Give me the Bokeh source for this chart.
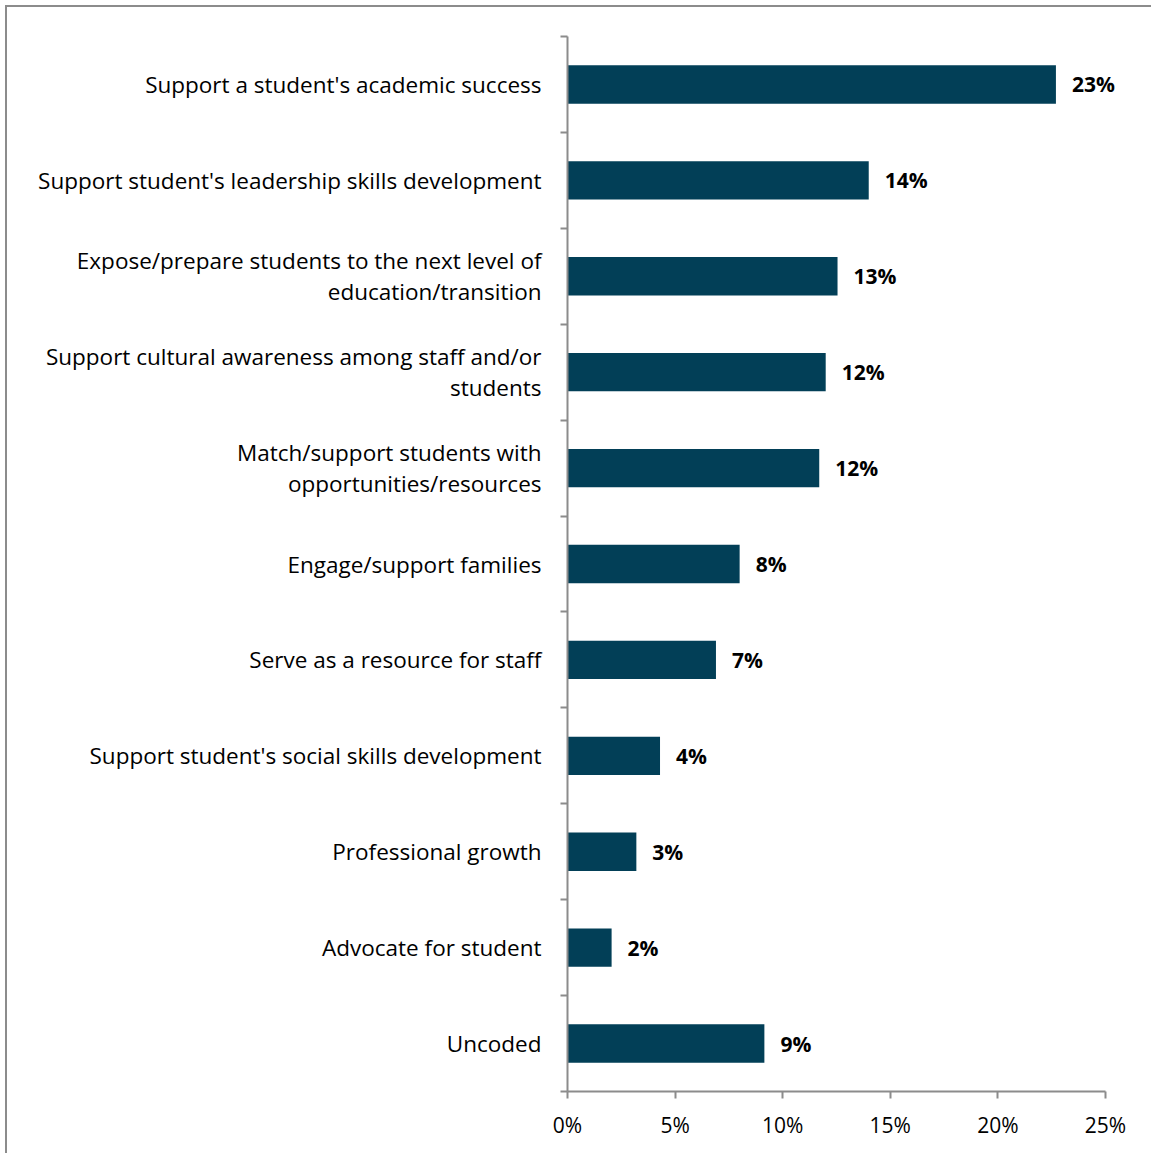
from bokeh.plotting import figure
from bokeh.models import ColumnDataSource, FixedTicker, LabelSet, Range1d
from bokeh.core.properties import value
from bokeh.embed import file_html
from bokeh.resources import INLINE

categories = [
    "Support a student's academic success",
    "Support student's leadership skills development",
    "Expose/prepare students to the next level of\neducation/transition",
    "Support cultural awareness among staff and/or\nstudents",
    "Match/support students with\nopportunities/resources",
    "Engage/support families",
    "Serve as a resource for staff",
    "Support student's social skills development",
    "Professional growth",
    "Advocate for student",
    "Uncoded",
]
values = [22.7, 14.0, 12.55, 12.0, 11.7, 8.0, 6.9, 4.3, 3.2, 2.05, 9.15]
value_labels = ["23%", "14%", "13%", "12%", "12%", "8%", "7%", "4%", "3%", "2%", "9%"]
x_ticks = [0, 5, 10, 15, 20, 25]

n = len(categories)
ypos = [n - i - 0.5 for i in range(n)]

src = ColumnDataSource(dict(y=ypos, v=values, lab=value_labels))

FONT = "Open Sans"
W, H = 1146, 1148
AXIS_MAX = 25
X_END = 26.77  # extra room so the value labels are not clipped

p = figure(width=W, height=H, output_backend="svg", toolbar_location=None,
           x_range=Range1d(0, X_END), y_range=Range1d(0, n),
           min_border_left=560, min_border_right=10, min_border_top=29, min_border_bottom=64)
p.styles = {"border-left": "2px solid #8c8c8c", "border-top": "2px solid #8c8c8c",
            "margin-left": "5px", "margin-top": "5px"}
p.outline_line_color = None
p.grid.visible = False
p.background_fill_color = "white"
p.border_fill_color = "white"

p.hbar(y="y", right="v", left=0, height=0.4, source=src, fill_color="#023f57", line_color=None)

labels = LabelSet(x="v", y="y", text="lab", source=src, x_offset=16, text_baseline="middle",
                  text_font=value(FONT), text_font_style="bold", text_font_size="21px",
                  text_color="black")
p.add_layout(labels)

# x axis
p.xaxis.bounds = (0, AXIS_MAX)
p.xaxis.ticker = FixedTicker(ticks=x_ticks)
p.xaxis.major_label_overrides = {t: f"{t}%" for t in x_ticks}
p.xaxis.axis_line_color = "#8c8c8c"
p.xaxis.axis_line_width = 2
p.xaxis.major_tick_line_color = "#8c8c8c"
p.xaxis.major_tick_line_width = 2
p.xaxis.major_tick_out = 7
p.xaxis.major_tick_in = 0
p.xaxis.minor_tick_line_color = None
p.xaxis.major_label_text_font = FONT
p.xaxis.major_label_text_font_size = "21px"
p.xaxis.major_label_text_color = "black"
p.xaxis.major_label_standoff = 12

# y axis: labels at category centers, ticks at category boundaries
p.yaxis.ticker = FixedTicker(ticks=ypos, minor_ticks=list(range(n + 1)))
p.yaxis.major_label_overrides = {y: c for y, c in zip(ypos, categories)}
p.yaxis.axis_line_color = "#8c8c8c"
p.yaxis.axis_line_width = 2
p.yaxis.major_tick_line_color = None
p.yaxis.major_tick_out = 0
p.yaxis.major_tick_in = 0
p.yaxis.minor_tick_line_color = "#8c8c8c"
p.yaxis.minor_tick_line_width = 2
p.yaxis.minor_tick_out = 7
p.yaxis.minor_tick_in = 0
p.yaxis.major_label_text_font = FONT
p.yaxis.major_label_text_font_size = "22.5px"
p.yaxis.major_label_text_line_height = 1.0
p.yaxis.major_label_text_color = "black"
p.yaxis.major_label_standoff = 19

open("out.html", "w").write(file_html(p, INLINE))
